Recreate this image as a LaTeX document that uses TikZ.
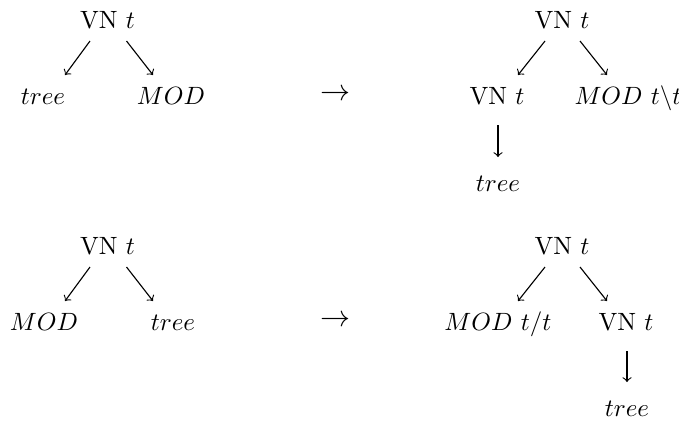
\documentclass[tikz,border=0pt]{standalone}
\usetikzlibrary{calc}
\begin{document}
\begin{tikzpicture}[x=0.4pt,y=-0.4pt,
  lbl/.style={anchor=base,inner sep=0pt},
  bigarrow/.style={inner sep=0pt,font=\large},
  edge/.style={->,line width=0.45pt}]
\useasboundingbox (0,0) rectangle (679,421);
% top left
\node[lbl] (a) at (107.5,28) {VN $t$};
\node[lbl] (a1) at (43,104) {$tree$};
\node[lbl] (a2) at (171,104) {$MOD$};
\draw[edge] ($(a.base)+(-17.5,13)$) -- ($(a1.base)+(22,-29)$);
\draw[edge] ($(a.base)+(19,13)$) -- ($(a2.base)+(-18,-29)$);
\node[bigarrow] (ar1) at (335,95) {$\rightarrow$};
% top right
\node[lbl] (b) at (562,28) {VN $t$};
\node[lbl] (b1) at (497,104) {VN $t$};
\node[lbl] (b2) at (628,104) {$MOD$ $t\backslash t$};
\node[lbl] (b3) at (498,191) {$tree$};
\draw[edge] ($(b.base)+(-17,13)$) -- ($(b1.base)+(21,-29)$);
\draw[edge] ($(b.base)+(18,13)$) -- ($(b2.base)+(-21,-29)$);
\draw[edge] ($(b1.base)+(1,21)$) -- ($(b3.base)+(0,-34)$);
% bottom left
\node[lbl] (c) at (107.5,254) {VN $t$};
\node[lbl] (c1) at (44,330) {$MOD$};
\node[lbl] (c2) at (173,330) {$tree$};
\draw[edge] ($(c.base)+(-17.5,13)$) -- ($(c1.base)+(21,-29)$);
\draw[edge] ($(c.base)+(19,13)$) -- ($(c2.base)+(-20,-29)$);
\node[bigarrow] (ar2) at (335,321) {$\rightarrow$};
% bottom right
\node[lbl] (d) at (562,254) {VN $t$};
\node[lbl] (d1) at (498,330) {$MOD$ $t/t$};
\node[lbl] (d2) at (626,330) {VN $t$};
\node[lbl] (d3) at (627,416) {$tree$};
\draw[edge] ($(d.base)+(-17,13)$) -- ($(d1.base)+(20,-29)$);
\draw[edge] ($(d.base)+(18,13)$) -- ($(d2.base)+(-19,-29)$);
\draw[edge] ($(d2.base)+(1,21)$) -- ($(d3.base)+(0,-34)$);
\end{tikzpicture}
\end{document}
